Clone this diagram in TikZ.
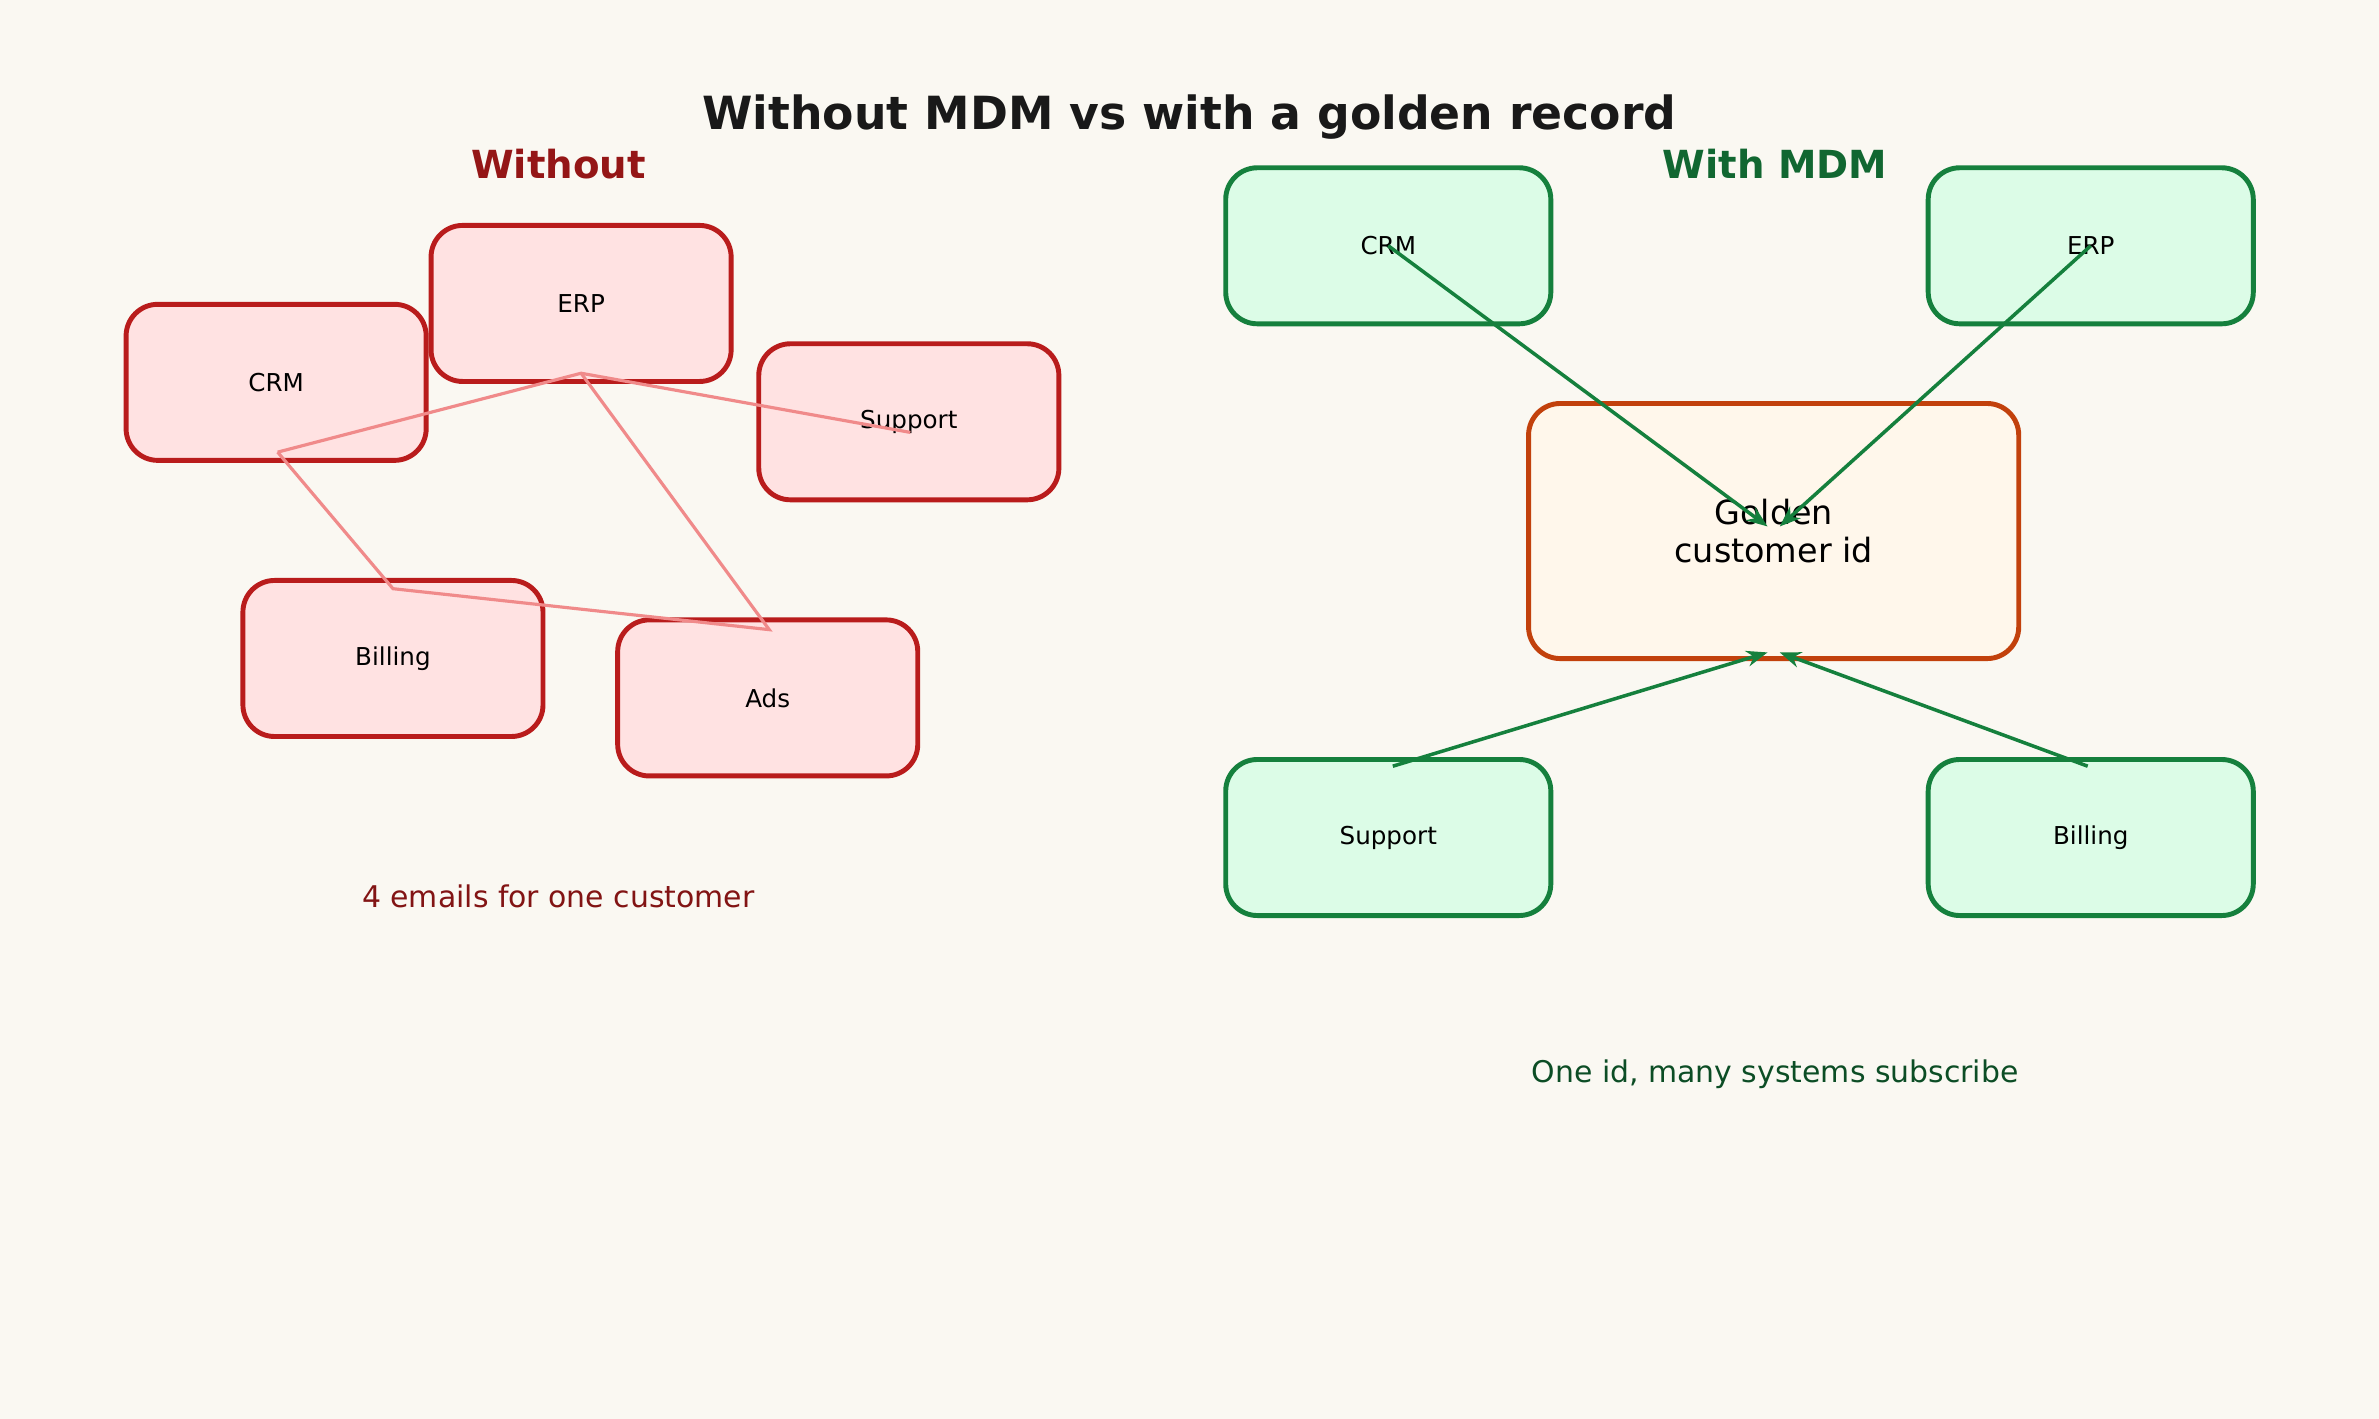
\documentclass[tikz,border=0pt]{standalone}
\usepackage{fontspec}
\setmainfont{DejaVu Sans}
\usetikzlibrary{positioning,arrows.meta}
\definecolor{bg}{HTML}{FAF8F2}
\definecolor{badline}{HTML}{B91C1C}
\definecolor{badfill}{HTML}{FFE2E2}
\definecolor{badlink}{HTML}{F08A8A}
\definecolor{goodline}{HTML}{15803D}
\definecolor{goodfill}{HTML}{DCFCE7}
\definecolor{goldline}{HTML}{C2410C}
\definecolor{goldfill}{HTML}{FFF7EB}
\begin{document}
\begin{tikzpicture}[
        x=0.01517cm, y=-0.01517cm,
        silo/.style={rectangle, draw=badline, fill=badfill, line width=1.4pt, rounded corners=9pt, minimum width=3.0cm, minimum height=1.56cm, font=\fontsize{7}{8}\selectfont},
        hub/.style={rectangle, draw=goodline, fill=goodfill, line width=1.4pt, rounded corners=9pt, minimum width=3.25cm, minimum height=1.56cm, font=\fontsize{7}{8}\selectfont},
        golden/.style={rectangle, draw=goldline, fill=goldfill, line width=1.4pt, rounded corners=9pt, minimum width=4.9cm, minimum height=2.55cm, align=center, font=\fontsize{9.5}{11}\selectfont},
        link/.style={badlink, line width=0.9pt},
        feed/.style={goodline, line width=1pt, -{Stealth[length=6pt]}}
    ]
        \fill[bg] (0,0) rectangle (1568,935);

        % Title
        \node[font=\bfseries\fontsize{13}{15}\selectfont, text=black!90] (title) at (784,77) {Without MDM vs with a golden record};

        % Left: without MDM
        \node[font=\bfseries\fontsize{11}{13}\selectfont, text=badline!80!black] (without) at (368,108) {Without};
        \node[silo] (crmA) at (182,252) {CRM};
        \node[silo] (erpA) at (383,200) {ERP};
        \node[silo] (supA) at (599,278) {Support};
        \node[silo] (bilA) at (259,434) {Billing};
        \node[silo] (adsA) at (506,460) {Ads};
        \coordinate (pCrm) at (183,298);
        \coordinate (pErp) at (383,246);
        \coordinate (pSup) at (600,285);
        \coordinate (pBil) at (259,388);
        \coordinate (pAds) at (507,415);
        \draw[link] (pCrm) -- (pErp) -- (pSup);
        \draw[link] (pCrm) -- (pBil) -- (pAds) -- (pErp);
        \node[text=badline!70!black, font=\fontsize{8.5}{10}\selectfont] (capA) at (368,591) {4 emails for one customer};

        % Right: with MDM
        \node[font=\bfseries\fontsize{11}{13}\selectfont, text=goodline!80!black] (withmdm) at (1170,108) {With MDM};
        \node[golden] (gold) at (1169,350) {Golden\\customer id};
        \node[hub] (crmB) at (915,162) {CRM};
        \node[hub] (erpB) at (1378,162) {ERP};
        \node[hub] (supB) at (915,552) {Support};
        \node[hub] (bilB) at (1378,552) {Billing};
        \coordinate (inCrm) at (1165,347);
        \coordinate (inErp) at (1173,347);
        \coordinate (inSup) at (1165,430);
        \coordinate (inBil) at (1173,430);
        \draw[feed] (crmB.center) -- (inCrm);
        \draw[feed] (erpB.center) -- (inErp);
        \draw[feed] ([shift={(3,-47)}]supB.center) -- (inSup);
        \draw[feed] ([shift={(-2,-47)}]bilB.center) -- (inBil);
        \node[text=goodline!60!black, font=\fontsize{8.5}{10}\selectfont] (capB) at (1170,708) {One id, many systems subscribe};
\end{tikzpicture}
\end{document}
